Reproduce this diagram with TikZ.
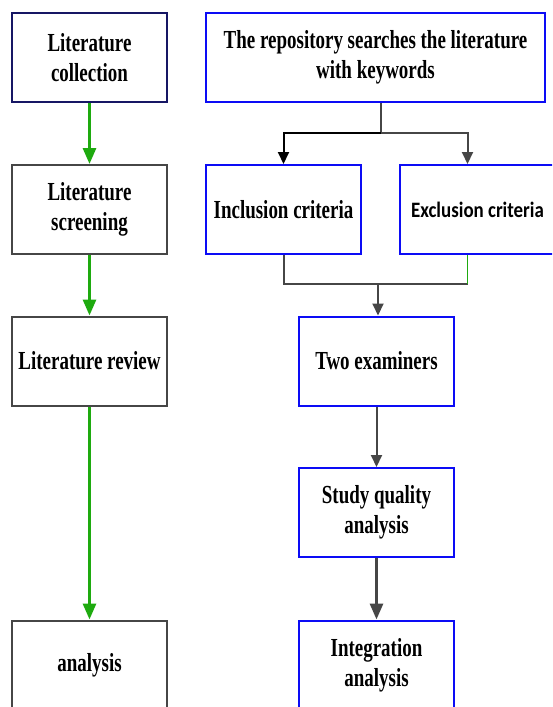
\documentclass[tikz,border=0pt]{standalone}
\usepackage{fontspec}
\usepackage{tikz}
\usetikzlibrary{arrows.meta}
\newfontfamily\boxfont{Liberation Serif}[FakeStretch=0.73]
\newfontfamily\exclfont{Carlito}[FakeStretch=0.86]
\definecolor{navyline}{RGB}{22,22,100}
\definecolor{boxblue}{RGB}{12,12,245}
\definecolor{linegray}{RGB}{70,70,70}
\definecolor{arrowgreen}{RGB}{30,170,15}

\begin{document}
\begin{tikzpicture}[x=1pt,y=1pt,
  box/.style={draw,line width=2pt,minimum width=155pt,minimum height=89pt,align=center,
    font={\boxfont\bfseries\fontsize{26}{30}\selectfont}},
  leftbox/.style={box,draw=linegray},
  rightbox/.style={box,draw=boxblue},
  greenarrow/.style={-{Triangle[width=13pt,length=16pt]},line width=3pt,draw=arrowgreen},
  grayline/.style={line width=2pt,draw=linegray},
  grayarrow/.style={grayline,-{Triangle[width=11pt,length=12pt]}}]

\useasboundingbox (0,0) rectangle (552,-707);
\clip (0,0) rectangle (552,-707);
\fill[white] (0,0) rectangle (552,-707);

%\draw[help lines] (0,0) grid[step=50] (552,-707);

% left column
\node[leftbox,draw=navyline] (coll) at (89.5,-57.5) {Literature\\collection};
\node[leftbox] (scr) at (89.5,-209.5) {Literature\\screening};
\node[leftbox] (rev) at (89.5,-361) {Literature review};
\node[leftbox] (ana) at (89.5,-665) {analysis};

\draw[greenarrow] (coll.south) -- (scr.north);
\draw[greenarrow] (scr.south) -- (rev.north);
\draw[greenarrow] (rev.south) -- (ana.north);

% right column
\node[rightbox,minimum width=339pt] (srch) at (375.5,-57.5) {The repository searches the literature\\with keywords};
\node[rightbox] (incl) at (283.5,-209.5) {Inclusion criteria};
\node[rightbox,font={\exclfont\bfseries\fontsize{22}{26}\selectfont}] (excl) at (477.5,-209.5) {Exclusion criteria};
\node[rightbox] (exam) at (376.5,-361) {Two examiners};
\node[rightbox] (qual) at (376.5,-512.5) {Study quality\\analysis};
\node[rightbox] (integ) at (376.5,-665) {Integration\\analysis};

\coordinate (fork) at (381,-132.5);
\coordinate (merge) at (378,-284);
\coordinate (exclfoot) at (467.5,-284);

\draw[grayline] ([xshift=5.5pt]srch.south) -- (fork);
\draw[grayarrow,draw=black] (fork) -| (incl.north);
\draw[grayarrow] (fork) -| ([xshift=-10pt]excl.north);

\draw[grayline] (incl.south) |- (exclfoot);
\draw[line width=1.5pt,draw=arrowgreen] (exclfoot) -- ([xshift=-10pt]excl.south);
\draw[grayarrow] (merge) -- (merge |- exam.north);

\draw[grayarrow] (exam.south) -- (qual.north);
\draw[grayarrow,line width=3pt,-{Triangle[width=13pt,length=16pt]}] (qual.south) -- (integ.north);

\end{tikzpicture}
\end{document}
